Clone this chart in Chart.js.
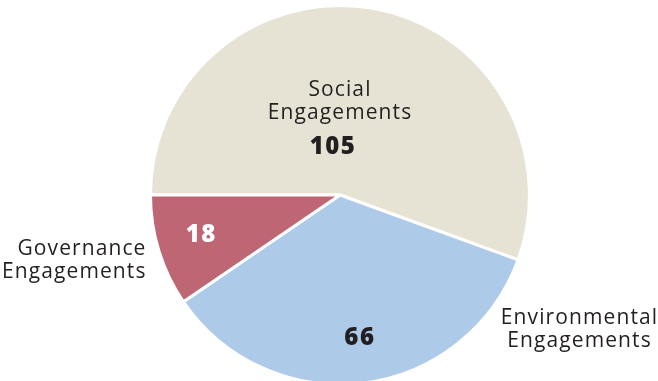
<!DOCTYPE html>
<html>
<head>
<meta charset="utf-8">
<script src="https://cdn.jsdelivr.net/npm/chart.js@4/dist/chart.umd.min.js"></script>
<style>
    html, body { margin: 0; padding: 0; background: #fff; overflow: hidden; }
    #wrap { width: 658px; height: 390px; position: relative; }
</style>
</head>
<body>
<div id="wrap"><canvas id="pie"></canvas></div>
<script>
// Data
const categories = ['Social Engagements', 'Environmental Engagements', 'Governance Engagements'];
const engagements = [105, 66, 18];
const sliceColors = ['#e6e3d5', '#aecae9', '#be6674'];

// label text for each slice
const nameLines = [['Social', 'Engagements'], ['Environmental', 'Engagements'], ['Governance', 'Engagements']];
const valueColors = ['#231f20', '#231f20', '#ffffff'];

const FONT = '"Open Sans", "DejaVu Sans", sans-serif';

// draws the category names and counts around / inside the pie
const labelPlugin = {
    id: 'sliceLabels',
    afterDatasetsDraw(chart) {
        const ctx = chart.ctx;
        const meta = chart.getDatasetMeta(0);
        ctx.save();
        ctx.textBaseline = 'middle';

        meta.data.forEach((arc, i) => {
            const { x, y, startAngle, endAngle, outerRadius } = arc.getProps(['x', 'y', 'startAngle', 'endAngle', 'outerRadius'], true);
            const mid = (startAngle + endAngle) / 2;
            let vx, vy, nx, ny, align;

            if (i === 0) {
                // name and value inside the slice, stacked
                nx = x; ny = y - 105;
                vx = x - 7; vy = y - 48;
                align = 'center';
            } else if (i === 1) {
                vx = x + Math.cos(mid) * outerRadius * 0.76 + 2;
                vy = y + Math.sin(mid) * outerRadius * 0.76;
                nx = x + outerRadius + 50; ny = y + 123;
                align = 'center';
            } else {
                vx = x + Math.cos(mid) * outerRadius * 0.7 - 12;
                vy = y + Math.sin(mid) * outerRadius * 0.7 + 1;
                nx = x - outerRadius - 4; ny = y + 54;
                align = 'right';
            }

            ctx.fillStyle = '#231f20';
            ctx.font = '21px ' + FONT;
            ctx.letterSpacing = '1.1px';
            ctx.textAlign = align;
            nameLines[i].forEach((line, k) => {
                ctx.fillText(line, nx, ny + k * 23.5);
            });

            ctx.fillStyle = valueColors[i];
            ctx.font = '800 24px ' + FONT;
            ctx.letterSpacing = '1.5px';
            ctx.textAlign = 'center';
            ctx.fillText(String(engagements[i]), vx, vy);
        });
        ctx.restore();
    }
};

new Chart(document.getElementById('pie'), {
    type: 'pie',
    data: {
        labels: categories,
        datasets: [{
            data: engagements,
            backgroundColor: sliceColors,
            borderColor: '#ffffff',
            borderWidth: 3
        }]
    },
    options: {
        responsive: true,
        maintainAspectRatio: false,
        animation: false,
        rotation: 270,
        layout: {
            padding: { top: 4, bottom: 4, left: 149, right: 127 }
        },
        plugins: {
            legend: { display: false },
            tooltip: { enabled: false }
        }
    },
    plugins: [labelPlugin]
});
</script>
</body>
</html>
